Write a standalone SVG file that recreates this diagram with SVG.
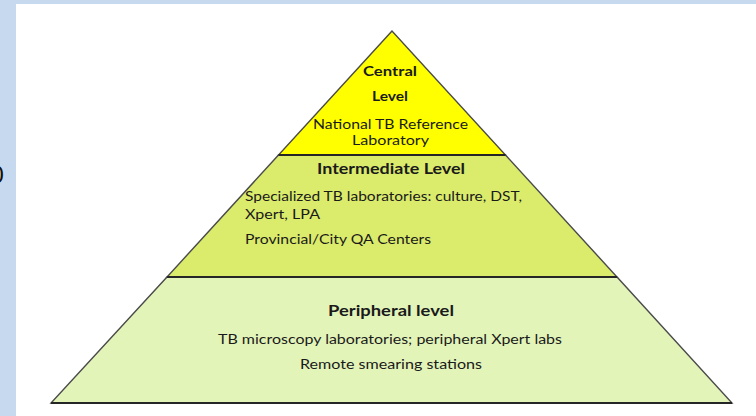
<svg xmlns="http://www.w3.org/2000/svg" width="756" height="416" viewBox="0 0 756 416">
  <style>
    .tier { stroke: #4a4a4a; stroke-width: 1.4; stroke-linejoin: miter; }
    .divider { stroke: #262626; stroke-width: 2; fill: none; }
    .t { font-family: Lato, "Liberation Sans", Arial, sans-serif; fill: #1a1a1a; }
    .b { font-weight: bold; }
    .c { text-anchor: middle; }
  </style>

  <!-- page background with light blue frame strips -->
  <rect x="0" y="0" width="756" height="416" fill="#ffffff"/>
  <rect x="0" y="0" width="756" height="4" fill="#c6d9ee"/>
  <rect x="0" y="0" width="16" height="416" fill="#c6d9ee"/>
  <text x="-9.5" y="183" font-size="24" font-family="Liberation Sans, sans-serif" fill="#111">0</text>

  <!-- central tier -->
  <g id="central-level">
    <polygon class="tier" points="392,31 278.5,155 505.5,155" fill="#ffff00"/>
    <text class="t b c" x="390" y="76" font-size="14" textLength="54" lengthAdjust="spacingAndGlyphs">Central</text>
    <text class="t b c" x="390" y="101" font-size="14" textLength="36" lengthAdjust="spacingAndGlyphs">Level</text>
    <text class="t c" x="390.5" y="129" font-size="14" textLength="155" lengthAdjust="spacingAndGlyphs">National TB Reference</text>
    <text class="t c" x="390.5" y="145" font-size="14" textLength="77" lengthAdjust="spacingAndGlyphs">Laboratory</text>
  </g>

  <!-- intermediate tier -->
  <g id="intermediate-level">
    <polygon class="tier" points="278.5,155 505.5,155 617,277 167,277" fill="#dbeb6c"/>
    <text class="t b c" x="391" y="174" font-size="15" textLength="148" lengthAdjust="spacingAndGlyphs">Intermediate Level</text>
    <text class="t" x="245" y="201" font-size="14" textLength="277" lengthAdjust="spacingAndGlyphs">Specialized TB laboratories: culture, DST,</text>
    <text class="t" x="245" y="219" font-size="14" textLength="75" lengthAdjust="spacingAndGlyphs">Xpert, LPA</text>
    <text class="t" x="245" y="244" font-size="14" textLength="186" lengthAdjust="spacingAndGlyphs">Provincial/City QA Centers</text>
  </g>

  <!-- peripheral tier -->
  <g id="peripheral-level">
    <polygon class="tier" points="167,277 617,277 732,403 51,403" fill="#e3f4b9"/>
    <text class="t b c" x="391" y="316" font-size="15" textLength="126" lengthAdjust="spacingAndGlyphs">Peripheral level</text>
    <text class="t c" x="390" y="344" font-size="13.5" textLength="344" lengthAdjust="spacingAndGlyphs">TB microscopy laboratories; peripheral Xpert labs</text>
    <text class="t c" x="391" y="369" font-size="13.5" textLength="182" lengthAdjust="spacingAndGlyphs">Remote smearing stations</text>
  </g>

  <!-- tier boundaries -->
  <g id="connectors">
    <line class="divider" x1="278.5" y1="155" x2="505.5" y2="155"/>
    <line class="divider" x1="167" y1="277" x2="617" y2="277"/>
    <line class="divider" x1="51" y1="403" x2="732" y2="403"/>
  </g>
</svg>
